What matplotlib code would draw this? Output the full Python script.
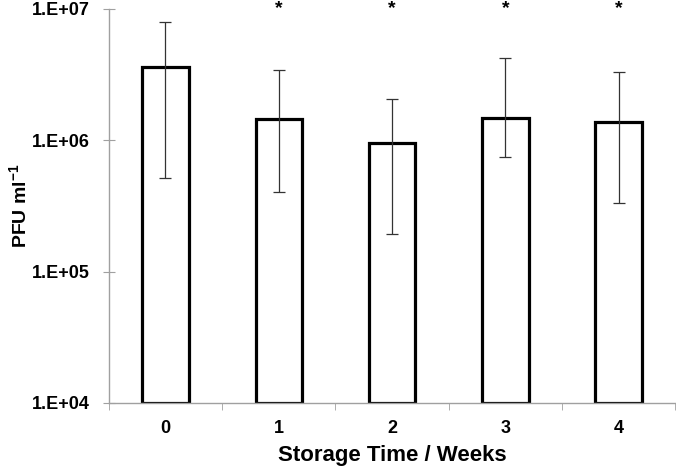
import matplotlib.pyplot as plt
import numpy as np

plt.rcParams['font.family'] = ['Liberation Sans', 'DejaVu Sans']
plt.rcParams['mathtext.fontset'] = 'custom'
plt.rcParams['mathtext.rm'] = 'Liberation Sans:bold'
plt.rcParams['mathtext.bf'] = 'Liberation Sans:bold'

weeks = ["0", "1", "2", "3", "4"]
pfu_mean = [3.6e6, 1.45e6, 9.6e5, 1.47e6, 1.37e6]
err_high = [8.0e6, 3.4e6, 2.06e6, 4.2e6, 3.3e6]
err_low = [5.2e5, 4.0e5, 1.92e5, 7.5e5, 3.3e5]
significant = [False, True, True, True, True]

base = 1e4
x = np.arange(len(weeks))
mean = np.array(pfu_mean)
yerr = [mean - np.array(err_low), np.array(err_high) - mean]

fig = plt.figure(figsize=(6.76, 4.69), dpi=100)
ax = fig.add_axes([0.161, 0.141, 0.838, 0.84])

ax.bar(x, mean - base, bottom=base, width=0.41, color='white',
       edgecolor='black', linewidth=2.3, zorder=2)
ax.errorbar(x, mean, yerr=yerr, fmt='none', ecolor='#333333',
            elinewidth=0.9, capsize=4, capthick=0.9, zorder=3)

ax.set_yscale('log')
ax.set_ylim(1e4, 1e7)
ax.set_xlim(-0.5, len(weeks) - 0.5)

# significance stars sit just above the top of the axis
for xi, sig in zip(x, significant):
    if sig:
        ax.annotate('*', xy=(xi, 1e7), xytext=(0, -3), textcoords='offset points',
                    ha='center', va='baseline', fontsize=14, fontweight='bold',
                    annotation_clip=False)

ax.set_yticks([1e4, 1e5, 1e6, 1e7])
ax.set_yticklabels(['1.E+04', '1.E+05', '1.E+06', '1.E+07'])
ax.minorticks_off()
ax.set_xticks(x)
ax.set_xticklabels(weeks)
ax.set_xticks(np.arange(-0.5, len(weeks)), minor=True)

for lab in ax.get_xticklabels() + ax.get_yticklabels():
    lab.set_fontweight('bold')
    lab.set_fontsize(13)

ax.tick_params(axis='y', which='major', direction='inout', length=9,
               color='#a0a0a0', pad=9)
ax.tick_params(axis='x', which='major', length=0, pad=12)
ax.tick_params(axis='x', which='minor', direction='out', length=5,
               color='#a0a0a0')

for side in ['top', 'right']:
    ax.spines[side].set_visible(False)
for side in ['left', 'bottom']:
    ax.spines[side].set_color('#a0a0a0')
    ax.spines[side].set_linewidth(1.0)

ax.set_xlabel('Storage Time / Weeks', fontsize=16, fontweight='bold', labelpad=6)
ax.set_ylabel(r'PFU ml$^{\mathbf{-1}}$', fontsize=14, fontweight='bold', labelpad=1)

fig.savefig('out.png', dpi=100)
